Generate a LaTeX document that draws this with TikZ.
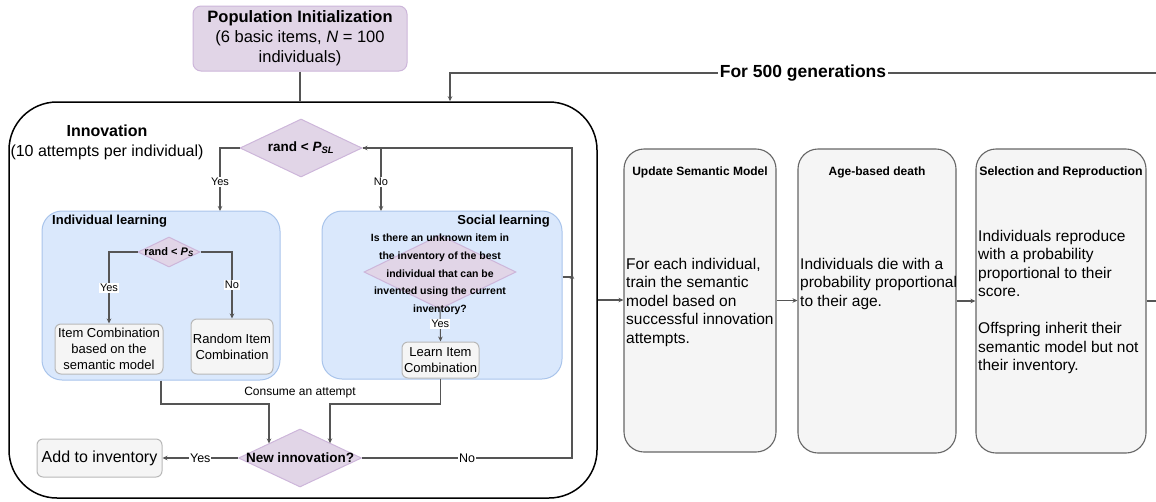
\documentclass[tikz,border=0pt]{standalone}
\usepackage{fontspec}
\setmainfont{Liberation Sans}
\usetikzlibrary{shapes.geometric,arrows.meta}
\definecolor{purfill}{HTML}{E1D5E7}
\definecolor{purdraw}{HTML}{CDB6DA}
\definecolor{bluefill}{HTML}{DAE8FC}
\definecolor{bluedraw}{HTML}{A9C4EB}
\definecolor{grayfill}{HTML}{F5F5F5}
\definecolor{graydraw}{HTML}{666666}
\definecolor{lightgraydraw}{HTML}{B8B8B8}
\definecolor{edgecol}{HTML}{555555}
\newcommand{\fsz}[2]{\fontsize{#1}{#2}\selectfont}
\begin{document}
\begin{tikzpicture}[x=1pt,y=-1pt,
  purbox/.style={draw=purdraw, fill=purfill, rounded corners=8pt, line width=1pt, inner sep=0pt, align=center},
  diam/.style={diamond, draw=purdraw, fill=purfill, line width=1pt, inner sep=0pt},
  learnbox/.style={draw=bluedraw, fill=bluefill, rounded corners=20pt, line width=1pt, inner sep=0pt},
  subbox/.style={draw=lightgraydraw, fill=grayfill, rounded corners=6pt, line width=1pt, align=center, inner sep=0pt},
  stagebox/.style={draw=graydraw, fill=grayfill, rounded corners=20pt, line width=1.1pt, inner sep=0pt},
  conn/.style={draw=edgecol, line width=1.1pt},
  arr/.style={conn, -{Stealth[length=5pt,width=4.5pt]}},
  lab/.style={fill=white, inner sep=1pt, font=\fsz{11}{13}},
  txt/.style={inner sep=0pt}
]
\useasboundingbox (0,0) rectangle (1156,501);

% population init
\node[purbox, minimum width=214pt, minimum height=65pt, font=\fsz{16.5}{20}] (pop) at (300,38.5)
  {\textbf{Population Initialization}\\(6 basic items, \textit{N} = 100\\individuals)};

% big innovation box
\node[draw=black, line width=1.5pt, rounded corners=48pt, minimum width=588pt, minimum height=396pt, inner sep=0pt] (innov) at (303,300) {};
\node[txt, align=center, font=\fsz{16}{20}] (innovtitle) at (107,142) {\textbf{Innovation}\\(10 attempts per individual)};

% first decision
\node[diam, minimum width=122pt, minimum height=58pt] (d1) at (301,148) {};
\node[txt, font=\fsz{13.5}{16}] (d1t) at (d1.center) {\textbf{rand < \textit{P}\textsubscript{\textit{SL}}}};

% individual learning
\node[learnbox, minimum width=238pt, minimum height=169pt] (indiv) at (161,295.5) {};
\node[txt, anchor=west, font=\fsz{13}{15}] (indivt) at (52,221) {\textbf{Individual learning}};
\node[diam, minimum width=62pt, minimum height=30pt] (d2) at (169,252) {};
\node[txt, font=\fsz{11}{13}] (d2t) at (d2.center) {\textbf{rand < \textit{P}\textsubscript{\textit{S}}}};
\node[subbox, minimum width=108pt, minimum height=50pt, font=\fsz{13}{16}] (itemc) at (109,349) {Item Combination\\based on the\\semantic model};
\node[subbox, minimum width=82pt, minimum height=55pt, font=\fsz{13}{16}] (randc) at (232,346.5) {Random Item\\Combination};

% social learning
\node[learnbox, minimum width=240pt, minimum height=168pt] (social) at (442,295) {};
\node[txt, anchor=east, font=\fsz{13}{15}] (socialt) at (550,221) {\textbf{Social learning}};
\node[diam, minimum width=152pt, minimum height=74pt] (d3) at (440,272) {};
\node[txt, align=center, font=\fsz{10.5}{17.7}\bfseries] (d3t) at (440,274.5) {Is there an unknown item in\\the inventory of the best\\individual that can be\\invented using the current\\inventory?};
\node[subbox, minimum width=77pt, minimum height=36pt, font=\fsz{13}{16}] (learnc) at (440.5,360) {Learn Item\\Combination};

% new innovation decision
\node[diam, minimum width=123pt, minimum height=58pt] (d4) at (300,458) {};
\node[txt, font=\fsz{13.5}{16}] (d4t) at (d4.center) {\textbf{New innovation?}};
\node[subbox, minimum width=125pt, minimum height=38pt, font=\fsz{16}{19}] (addinv) at (99.5,458) {Add to inventory};
\node[txt, font=\fsz{12}{14}] (consume) at (300,393) {Consume an attempt};

% stages
\node[stagebox, minimum width=152pt, minimum height=303pt] (update) at (700,300.5) {};
\node[txt, font=\fsz{12}{14}] (updatet) at (700,172) {\textbf{Update Semantic Model}};
\node[txt, anchor=west, align=left, font=\fsz{15.5}{18.5}] (updateb) at (626,302) {For each individual,\\train the semantic\\model based on\\successful innovation\\attempts.};

\node[stagebox, minimum width=158pt, minimum height=304pt] (age) at (877,301) {};
\node[txt, font=\fsz{12}{14}] (aget) at (877,172) {\textbf{Age-based death}};
\node[txt, anchor=west, align=left, font=\fsz{15.5}{18.5}] (ageb) at (800,283.5) {Individuals die with a\\probability proportional\\to their age.};

\node[stagebox, minimum width=170pt, minimum height=304pt] (sel) at (1061,301) {};
\node[txt, font=\fsz{12.3}{14}] (selt) at (1061,172) {\textbf{Selection and Reproduction}};
\node[txt, anchor=west, align=left, font=\fsz{15.5}{18.5}] (selb) at (978,302) {Individuals reproduce\\with a probability\\proportional to their\\score.\\[18.5pt]Offspring inherit their\\semantic model but not\\their inventory.};

% coordinates
\coordinate (yesin) at (220,211);
\coordinate (noin) at (381,211);
\coordinate (retx) at (572,458);
\coordinate (rety) at (572,148);
\coordinate (socj) at (572,277);
\coordinate (j1) at (161,404);
\coordinate (d4in1) at (269,443.5);
\coordinate (j2) at (440.5,404);
\coordinate (d4in2) at (330,443.3);
\coordinate (loopR) at (1156,73);
\coordinate (loopL) at (450,73);
\coordinate (rightend) at (1156,301);

% connectors
\draw[conn] (pop.south) -- (pop.south |- innov.north);
\draw[arr] (loopR) -- node[fill=white, inner sep=1.5pt, font=\fsz{17.5}{20}] (gen) {\textbf{For 500 generations}} (loopL) -- (loopL |- innov.north);

\draw[arr] (d1.west) -| node[lab, pos=0.77] (y1) {Yes} (yesin);
\draw[arr] (d1.east) -| node[lab, pos=0.77] (n1) {No} (noin);

\draw[arr] (d2.west) -| node[lab, pos=0.75] (y2) {Yes} (itemc.north);
\draw[arr] (d2.east) -| node[lab, pos=0.75] (n2) {No} (randc.north);

\draw[arr] (d3.south) -- node[lab, pos=0.45] (y3) {Yes} (learnc.north);

\draw[arr] (indiv.south) -- (j1) -| (d4in1);
\draw[arr] (learnc.south) -- (j2) -| (d4in2);

\draw[arr] (d4.west) -- node[lab, font=\fsz{12.5}{14}] (y4) {Yes} (addinv.east);
\draw[arr] (d4.east) -- node[lab, font=\fsz{12.5}{14}] (n4) {No} (retx) -- (rety) -- (d1.east);
\draw[arr] (social.east |- socj) -- (socj) -- ++(0,-3);

\draw[arr] (innov.east) -- (innov.east -| update.west);
\draw[arr] (update.east) -- (update.east -| age.west);
\draw[arr] (age.east) -- (age.east -| sel.west);
\draw[conn] (sel.east) -- (rightend);
\end{tikzpicture}
\end{document}
